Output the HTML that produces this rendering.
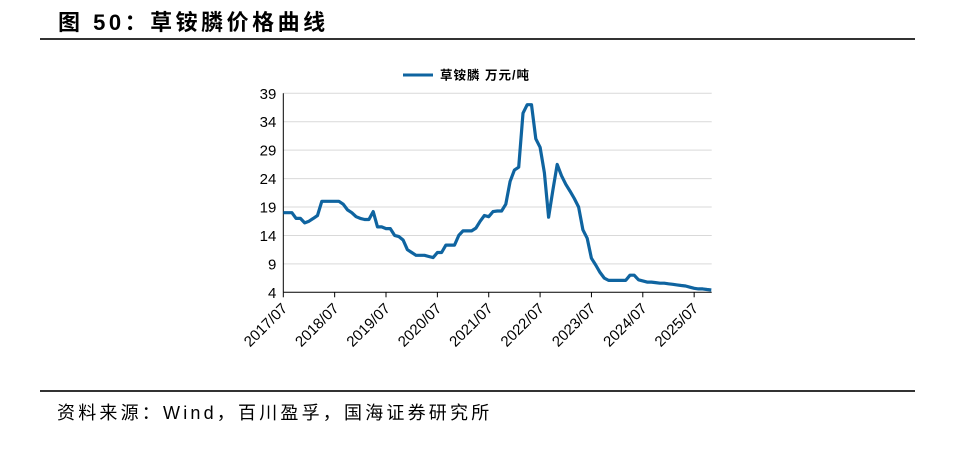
<!DOCTYPE html>
<html><head><meta charset="utf-8">
<style>
body{margin:0;background:#fff;width:957px;height:453px;overflow:hidden;position:relative;font-family:"Liberation Sans","Noto Sans CJK SC",sans-serif;}
#title{position:absolute;left:58px;top:5px;font-size:22px;font-weight:bold;color:#000;letter-spacing:3.5px;white-space:nowrap;}
.rule{position:absolute;left:40px;width:875px;height:2px;background:#333;}
#source{position:absolute;left:57px;top:399px;font-size:18px;color:#000;white-space:nowrap;letter-spacing:3.2px;}
svg{position:absolute;left:0;top:0;}
</style></head><body>
<div id="title">图 50：草铵膦价格曲线</div>
<div class="rule" style="top:38px"></div>
<svg id="chart" width="957" height="453"></svg>
<div class="rule" style="top:390px;height:1.5px"></div>
<div id="source">资料来源：Wind，百川盈孚，国海证券研究所</div>
<script>
const yTicks=[4,9,14,19,24,29,34,39];
const xLabels=["2017/07","2018/07","2019/07","2020/07","2021/07","2022/07","2023/07","2024/07","2025/07"];
const seriesName="草铵膦 万元/吨";
const prices=[18,18,18,17,17,16.2,16.5,17,17.5,20,20,20,20,20,19.5,18.5,18,17.3,17,16.8,16.8,18.2,15.5,15.5,15.2,15.2,14,13.8,13.2,11.5,11,10.5,10.5,10.5,10.3,10.1,11,11,12.3,12.3,12.3,14,14.8,14.8,14.8,15.3,16.5,17.5,17.3,18.2,18.3,18.3,19.5,23.5,25.5,26,35.5,37,37,31,29.5,25,17.2,22,26.5,24.5,23,21.8,20.5,19,15,13.5,10,8.8,7.5,6.5,6.1,6.1,6.1,6.1,6.1,7,7,6.2,6,5.8,5.8,5.7,5.6,5.6,5.5,5.4,5.3,5.2,5.1,4.9,4.7,4.6,4.6,4.5,4.4];

const NS="http://www.w3.org/2000/svg";
const svg=document.getElementById('chart');
const X0=283.3,X1=711.7,Y0=292.3,Y1=93.3,YMIN=4,YMAX=39;
const MONTH=(X1-X0)/100.1;
const x=i=>X0+i*MONTH;
const y=v=>Y0-(v-YMIN)/(YMAX-YMIN)*(Y0-Y1);
function mk(tag,attrs){const e=document.createElementNS(NS,tag);for(const k in attrs)e.setAttribute(k,attrs[k]);svg.appendChild(e);return e;}

yTicks.forEach(t=>{
  if(t!==YMIN){const g=mk('line',{x1:X0,x2:X1,y1:y(t),y2:y(t),stroke:'#d9d9d9','stroke-width':1});
  
  }
  const l=mk('text',{x:X0-7,y:y(t)+5.5,'text-anchor':'end','font-size':15,fill:'#000','font-family':'Liberation Sans, sans-serif'});
  l.textContent=t;
  
  
});
const ya=mk('line',{x1:X0,x2:X0,y1:Y1,y2:Y0,stroke:'#000','stroke-width':1});


const xa=mk('line',{x1:X0,x2:X1,y1:Y0,y2:Y0,stroke:'#000','stroke-width':1});


xLabels.forEach((lab,k)=>{
  const px=x(k*12);
  const tk=mk('line',{x1:px,x2:px,y1:Y0,y2:Y0+5,stroke:'#000','stroke-width':1});
  
  
  const t=mk('text',{x:px+5,y:Y0+17,'text-anchor':'end','font-size':15,fill:'#000','font-family':'Liberation Sans, sans-serif',transform:`rotate(-45 ${px+5} ${Y0+17})`});
  t.textContent=lab;
  
  
});
const pts=prices.map((v,i)=>x(i).toFixed(1)+','+y(v).toFixed(1)).join(' ');
const line=mk('polyline',{points:pts,fill:'none',stroke:'#0f64a0','stroke-width':3.2,'stroke-linejoin':'round'});


const lg=mk('line',{x1:403,x2:433,y1:75,y2:75,stroke:'#0f64a0','stroke-width':3});


const lt=mk('text',{x:440,y:79.5,'font-size':12.5,'font-weight':'bold',fill:'#000','letter-spacing':1,'font-family':'Liberation Sans, Noto Sans CJK SC, sans-serif'});
lt.textContent=seriesName;


</script>
</body></html>
